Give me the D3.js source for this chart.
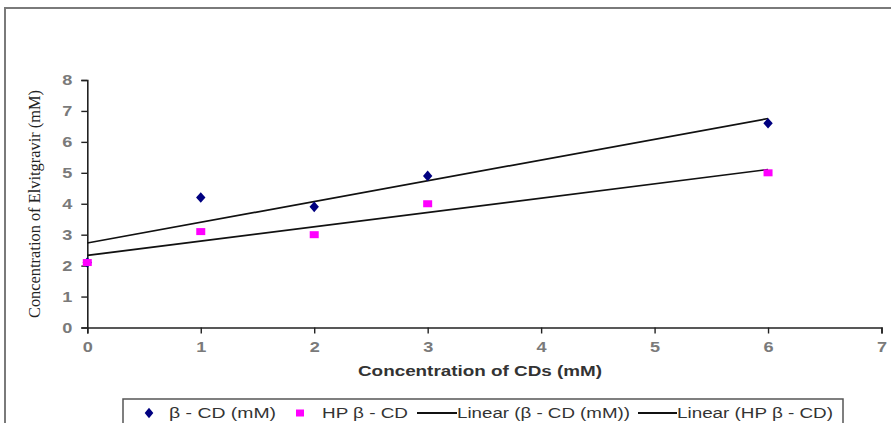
<!DOCTYPE html>
<html><head><meta charset="utf-8">
<script src="https://cdn.jsdelivr.net/npm/d3@7"></script>
<style>body{margin:0;background:#fff}svg{display:block}</style>
</head><body>
<svg id="chart" width="891" height="423"></svg>
<script>
const xValues = [0, 1, 2, 3, 6];
const betaCD = [2.1, 4.2, 3.9, 4.9, 6.6];
const hpBetaCD = [2.1, 3.1, 3.0, 4.0, 5.0];
const xTicks = [0, 1, 2, 3, 4, 5, 6, 7];
const yTicks = [0, 1, 2, 3, 4, 5, 6, 7, 8];
const seriesNames = ["β - CD (mM)", "HP β - CD", "Linear (β - CD (mM))", "Linear (HP β - CD)"];
const xTitle = "Concentration of CDs (mM)";
const yTitle = "Concentration of Elvitgravir (mM)";

const svg = d3.select("#chart");
const x = d3.scaleLinear().domain([0, 7]).range([87.3, 881.5]);
const y = d3.scaleLinear().domain([0, 8]).range([327.5, 80]);

// outer chart border
svg.append("rect").attr("x", 5).attr("y", 8).attr("width", 900).attr("height", 430)
  .attr("fill", "none").attr("stroke", "#7a7a7a").attr("stroke-width", 2);

// axes
const yAxis = svg.append("g").attr("transform", `translate(${x(0)},0)`)
  .call(d3.axisLeft(y).tickValues(yTicks).tickSize(6).tickPadding(10).tickFormat(d3.format("d")));
const xAxis = svg.append("g").attr("transform", `translate(0,${y(0)})`)
  .call(d3.axisBottom(x).tickValues(xTicks).tickSize(6).tickPadding(10).tickFormat(d3.format("d")));
[xAxis, yAxis].forEach(g => {
  g.select(".domain").attr("stroke", "#222").attr("stroke-width", 1.6);
  g.selectAll(".tick line").attr("stroke", "#222").attr("stroke-width", 1.4);
  g.selectAll("text").attr("fill", "#7a7a7a").attr("font-family", "Arial, 'Liberation Sans', sans-serif")
    .attr("font-size", 14.5).attr("font-weight", "bold");
});
const sx = 1.25;
yAxis.selectAll(".tick text").attr("transform", `scale(${sx},1)`).attr("x", -15 / sx);
xAxis.selectAll(".tick text").attr("transform", `scale(${sx},1)`).attr("dy", "0.75em").attr("y", 14);

// regression trendlines
function fit(xs, ys) {
  const mx = d3.mean(xs), my = d3.mean(ys);
  const sxy = d3.sum(xs, (v, i) => (v - mx) * (ys[i] - my));
  const sxx = d3.sum(xs, v => (v - mx) * (v - mx));
  const b = sxy / sxx;
  return { a: my - b * mx, b };
}
const line = d3.line().x(d => x(d[0])).y(d => y(d[1]));
[betaCD, hpBetaCD].forEach(ys => {
  const f = fit(xValues, ys);
  const ext = d3.extent(xValues);
  svg.append("path").attr("d", line(ext.map(v => [v, f.a + f.b * v])))
    .attr("fill", "none").attr("stroke", "#111").attr("stroke-width", 1.7);
});

// markers
const diamond = d3.symbol().type(d3.symbolDiamond).size(45);
svg.append("g").selectAll("path").data(xValues.map((v, i) => [v, betaCD[i]])).join("path")
  .attr("d", diamond).attr("transform", d => `translate(${x(d[0])},${y(d[1])}) scale(1.3,0.85)`)
  .attr("fill", "#000080");
svg.append("g").selectAll("rect").data(xValues.map((v, i) => [v, hpBetaCD[i]])).join("rect")
  .attr("x", d => x(d[0]) - 4.5).attr("y", d => y(d[1]) - 3.5).attr("width", 9).attr("height", 7)
  .attr("fill", "#ff00ff");

// titles
svg.append("text").attr("x", 480).attr("y", 376).attr("text-anchor", "middle")
  .attr("font-family", "Arial, 'Liberation Sans', sans-serif").attr("font-weight", "bold")
  .attr("font-size", 14).attr("fill", "#333").attr("textLength", 244).attr("lengthAdjust", "spacingAndGlyphs")
  .text(xTitle);
svg.append("text").attr("transform", "translate(40,204) rotate(-90)").attr("text-anchor", "middle")
  .attr("font-family", "'Liberation Serif', 'Times New Roman', serif")
  .attr("font-size", 17).attr("fill", "#222").attr("textLength", 228).attr("lengthAdjust", "spacingAndGlyphs")
  .text(yTitle);

// legend
const lg = svg.append("g");
lg.append("rect").attr("x", 123).attr("y", 399).attr("width", 720).attr("height", 40)
  .attr("fill", "#fff").attr("stroke", "#555").attr("stroke-width", 1.5);
const ty = 418;
const legendText = (t, x0, w) => lg.append("text").attr("x", x0).attr("y", ty)
  .attr("font-family", "Arial, 'Liberation Sans', sans-serif").attr("font-size", 14).attr("fill", "#333")
  .attr("textLength", w).attr("lengthAdjust", "spacingAndGlyphs").text(t);
lg.append("path").attr("d", diamond).attr("transform", `translate(149,413) scale(1.2,0.85)`).attr("fill", "#000080");
legendText(seriesNames[0], 169, 107);
lg.append("rect").attr("x", 296).attr("y", 409.5).attr("width", 8).attr("height", 7).attr("fill", "#ff00ff");
legendText(seriesNames[1], 322, 86);
lg.append("line").attr("x1", 417).attr("x2", 457).attr("y1", 413).attr("y2", 413).attr("stroke", "#111").attr("stroke-width", 2);
legendText(seriesNames[2], 457, 173);
lg.append("line").attr("x1", 638).attr("x2", 677).attr("y1", 413).attr("y2", 413).attr("stroke", "#111").attr("stroke-width", 2);
legendText(seriesNames[3], 677, 156);
</script>
</body></html>
